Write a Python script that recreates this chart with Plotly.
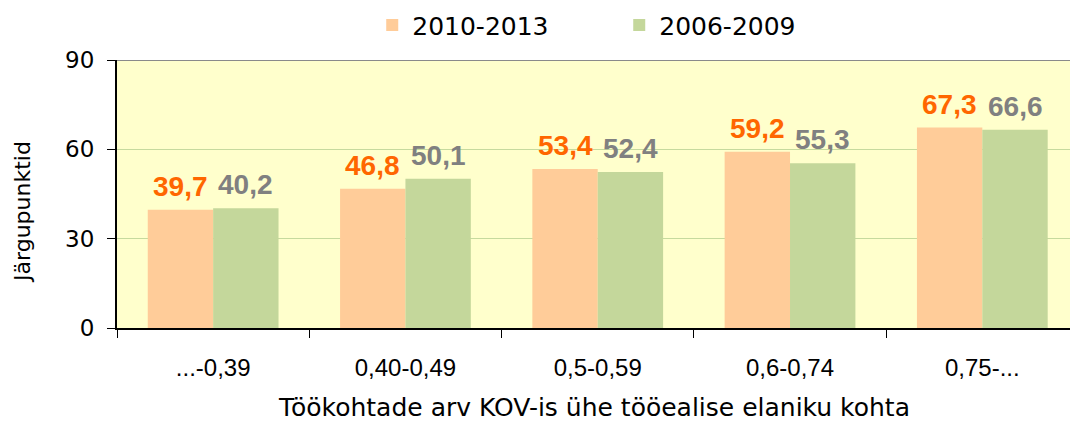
import plotly.graph_objects as go

categories = ["...-0,39", "0,40-0,49", "0,5-0,59", "0,6-0,74", "0,75-..."]
values_2010_2013 = [39.7, 46.8, 53.4, 59.2, 67.3]
values_2006_2009 = [40.2, 50.1, 52.4, 55.3, 66.6]

fig = go.Figure()
fig.add_trace(go.Bar(x=categories, y=values_2010_2013, name="2010-2013",
                     marker=dict(color="#FFCC99", line=dict(width=0))))
fig.add_trace(go.Bar(x=categories, y=values_2006_2009, name="2006-2009",
                     marker=dict(color="#C4D79B", line=dict(width=0))))

# value labels above the bars, shifted to each bar of the group
half_bar = 192.3 * (1 - 0.32) / 4
for vals, color, shift in [(values_2010_2013, "#FF6600", -half_bar), (values_2006_2009, "#808080", half_bar)]:
    for cat, v in zip(categories, vals):
        fig.add_annotation(x=cat, y=v, text=f"{v:.1f}".replace(".", ","), showarrow=False,
                           xshift=shift, yshift=6, yanchor="bottom",
                           font=dict(family="Liberation Sans", size=28, color=color, weight="bold"))

fig.update_layout(
    width=1070, height=423,
    margin=dict(l=117, r=0, t=60, b=95),
    paper_bgcolor="white", plot_bgcolor="#FFFFCC",
    barmode="group", bargap=0.32, bargroupgap=0,
    font=dict(family="DejaVu Sans", size=22, color="black"),
    showlegend=True,
    legend=dict(orientation="h", x=0.527, xanchor="center", y=1.13, yanchor="middle",
                font=dict(family="DejaVu Sans", size=25), entrywidth=202,
                bgcolor="rgba(0,0,0,0)"),
)
fig.update_xaxes(
    range=[-0.5, 4.456], tickson="boundaries", ticks="outside", ticklen=8, tickcolor="black",
    showline=True, linecolor="black", linewidth=2, showgrid=False, ticklabelstandoff=17,
    tickfont=dict(family="Liberation Sans", size=24, color="black"),
)
fig.update_yaxes(
    range=[0, 90], tickvals=[0, 30, 60, 90], ticks="outside", ticklen=8, tickcolor="black",
    showline=True, linecolor="black", linewidth=2, zeroline=False, ticklabelstandoff=8,
    showgrid=True, gridcolor="#C6DA9E", gridwidth=1,
    tickfont=dict(family="DejaVu Sans", size=23, color="black"),
)
fig.add_shape(type="line", xref="paper", yref="y", x0=0, x1=1, y0=90, y1=90,
              line=dict(color="#8A8A8A", width=2))
fig.add_annotation(text="Järgupunktid", xref="paper", yref="paper", x=0, xshift=-94, xanchor="center",
                   y=0.433, yanchor="middle", textangle=-90, showarrow=False,
                   font=dict(family="DejaVu Sans", size=22, color="black"))
fig.add_annotation(text="Töökohtade arv KOV-is ühe tööealise elaniku kohta", xref="paper", yref="paper",
                   x=0.5, y=0, yshift=-79, yanchor="middle", showarrow=False, borderpad=0,
                   font=dict(family="DejaVu Sans", size=25, color="black"))

fig.write_html("out.html", config={"displayModeBar": False},
               post_script="document.body.style.margin='0';document.body.style.overflow='hidden';")
